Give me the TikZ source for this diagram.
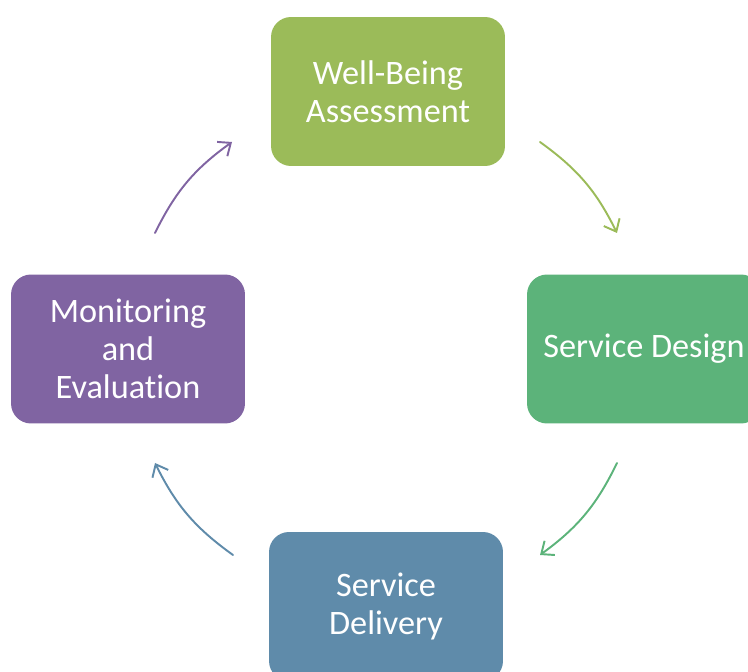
\documentclass[tikz,border=0pt]{standalone}
\usepackage{fontspec}
\setmainfont{Carlito}[Ligatures=NoCommon]
\usetikzlibrary{arrows.meta}

\definecolor{wbgreen}{RGB}{155,187,89}
\definecolor{sdgreen}{RGB}{92,179,122}
\definecolor{sdblue}{RGB}{95,139,170}
\definecolor{mepurple}{RGB}{128,100,162}

\tikzset{
  stage/.style={rounded corners=0.4cm,minimum width=4.68cm,minimum height=2.98cm,
    text=white,align=center,font=\fontsize{19.5}{21.5}\selectfont,inner sep=0pt},
  cycarrow/.style={line width=1.1pt,line cap=round,-{Straight Barb[length=6pt,width=10pt,line width=1.1pt]}}
}

\begin{document}
\begin{tikzpicture}[x=0.02cm,y=-0.02cm]
  \useasboundingbox (0,0) rectangle (748,672);
  \clip (0,0) rectangle (748,672);
  % the four stages
  \node[stage,fill=wbgreen] (wba) at (388,91.5) {Well-Being\\Assessment};
  \node[stage,fill=sdgreen] (design) at (644,349) {Service Design};
  \node[stage,fill=sdblue] (delivery) at (386,606.5) {Service\\Delivery};
  \node[stage,fill=mepurple] (monitor) at (128,349) {Monitoring\\and\\Evaluation};
  % arrow ends round the circle
  \coordinate (a1) at (540,142);
  \coordinate (b1) at (617,233);
  \coordinate (a2) at (617,463);
  \coordinate (b2) at (540,555);
  \coordinate (a3) at (233,555);
  \coordinate (b3) at (155,463);
  \coordinate (a4) at (155,233);
  \coordinate (b4) at (232,142);
  \draw[cycarrow,wbgreen] (a1) to[bend left=14] (b1);
  \draw[cycarrow,sdgreen] (a2) to[bend left=14] (b2);
  \draw[cycarrow,sdblue] (a3) to[bend left=14] (b3);
  \draw[cycarrow,mepurple] (a4) to[bend left=14] (b4);
\end{tikzpicture}
\end{document}
